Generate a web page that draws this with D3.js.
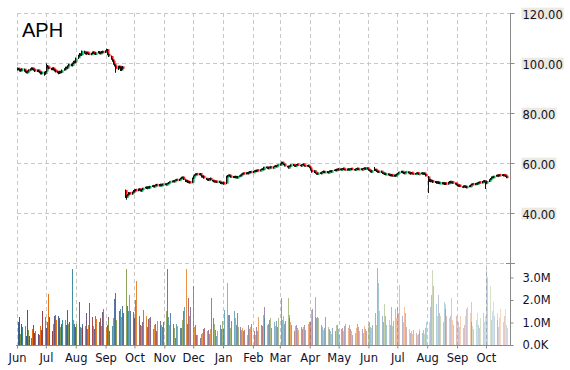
<!DOCTYPE html>
<html>
<head>
<meta charset="utf-8">
<script src="https://cdnjs.cloudflare.com/ajax/libs/d3/7.8.5/d3.min.js"></script>
<style>
  body { margin: 0; background: #fff; }
  svg { display: block; }
  text { font-family: 'DejaVu Sans', Verdana, sans-serif; }
</style>
</head>
<body>
<div id="chart"></div>
<script>
/* global d3 */

// ----------------------------------------
// Data: one entry per trading day, from 2 Jun 2014 (2:1 split after 19 Sep 2014)
// ----------------------------------------

let priceOpen = [
  // Jun 2014
  97.3, 97.9, 97.5, 96.8, 97.1, 97.7, 96.9, 96.5, 96.2, 96.8, 97.2, 97.5, 98.0, 97.6, 97.3, 96.7, 97.2, 96.7, 96.3, 95.7, 96.4,
  // Jul
  95.7, 96.5, 98.8, 98.3, 97.9, 97.4, 98.0, 97.4, 97.0, 96.6, 96.3, 95.8, 96.7, 96.2, 97.2, 97.5, 98.3, 97.9, 98.9, 99.5, 98.9, 99.8, 100.7,
  // Aug
  100.3, 101.9, 102.8, 103.7, 103.1, 104.2, 104.7, 103.9, 103.6, 104.3, 103.8, 103.4, 103.9, 104.4, 103.8, 103.5, 104.1, 104.5, 103.7, 104.2, 104.6,
  // Sep (pre split)
  104.3, 104.9, 105.4, 104.5, 103.5, 102.8, 101.5, 100.9, 99.5, 99.0, 97.5, 98.7, 98.3, 97.0, 98.5,
  // Sep (post split)
  49.2, 46.2, 46.9, 47.3, 48.2, 47.5, 48.3,
  // Oct
  48.9, 48.5, 49.4, 48.9, 49.7, 49.3, 48.7, 49.4, 50.0, 50.4, 49.7, 50.5, 50.0, 50.6, 51.0, 50.4, 51.1, 51.4, 50.8, 51.0, 51.5, 50.9, 51.2,
  // Nov
  51.7, 51.2, 51.7, 51.8, 52.3, 52.4, 52.9, 52.5, 53.1, 53.4, 53.0, 53.6, 53.8, 54.4, 54.1, 53.3, 52.5, 53.0, 52.1, 52.6,
  // Dec
  52.1, 53.8, 54.9, 55.2, 55.7, 55.3, 55.8, 55.1, 54.3, 54.8, 53.8, 53.5, 53.0, 53.6, 53.9, 53.1, 52.9, 52.4, 52.8, 52.3, 52.7, 52.3, 51.8,
  // Jan 2015
  52.2, 52.1, 51.8, 54.5, 55.0, 55.2, 54.8, 54.2, 54.7, 54.1, 54.6, 54.0, 54.7, 54.8, 55.1, 55.5, 56.0, 55.6, 56.2, 55.7, 56.2, 56.6,
  // Feb
  56.1, 56.7, 57.0, 56.6, 57.2, 56.8, 57.4, 57.7, 57.3, 57.8, 58.4, 58.2, 57.7, 58.3, 58.5, 57.9, 58.6, 58.9, 58.5, 59.0,
  // Mar
  59.1, 59.7, 60.3, 59.7, 59.4, 58.7, 58.5, 58.0, 58.7, 58.8, 59.4, 59.1, 58.6, 59.2, 59.5, 59.1, 58.8, 59.4, 59.6, 59.0, 58.7, 59.1,
  // Apr
  58.5, 58.2, 57.1, 56.4, 56.9, 56.3, 55.8, 55.5, 56.1, 55.7, 56.4, 56.7, 56.1, 56.6, 56.0, 56.5, 56.9, 56.4, 57.0, 57.3, 56.9, 57.6,
  // May
  57.2, 57.7, 57.2, 57.6, 57.9, 57.5, 57.1, 57.7, 57.2, 57.6, 57.8, 57.5, 57.1, 57.6, 57.9, 57.3, 57.7, 57.2, 57.8, 58.0, 57.5,
  // Jun
  58.1, 57.5, 57.2, 56.9, 56.3, 57.0, 57.5, 57.1, 56.7, 56.2, 56.8, 56.2, 55.7, 56.0, 55.3, 55.7, 55.3, 54.9, 55.4, 54.8, 55.2, 54.7,
  // Jul
  55.1, 55.5, 56.0, 56.2, 56.7, 56.2, 55.7, 56.3, 56.5, 56.1, 55.6, 56.2, 55.8, 55.5, 55.9, 56.1, 55.8, 55.4, 55.7, 56.1, 55.5, 56.0, 55.5,
  // Aug
  54.6, 52.7, 53.4, 52.5, 53.0, 52.2, 52.6, 51.9, 52.5, 51.7, 52.2, 51.6, 52.1, 51.5, 52.0, 51.6, 52.1, 52.7, 52.0, 52.5, 52.0,
  // Sep
  51.7, 51.3, 50.7, 51.2, 50.5, 50.3, 50.9, 50.6, 50.1, 50.5, 51.0, 50.6, 51.1, 51.7, 51.3, 51.9, 51.5, 51.9, 52.4, 52.0, 52.5, 53.0,
  // Oct
  52.3, 51.9, 52.6, 53.4, 53.7, 54.5, 54.1, 54.8, 54.8, 55.2, 54.7, 55.3, 54.9, 55.4, 54.8, 55.2, 54.7
]

let priceHigh = [
  98.2, 98.1, 97.7, 97.5, 97.9, 97.8, 97.1, 96.8, 97.0, 97.5, 97.9, 98.3, 98.2, 97.8, 97.5, 97.4, 97.4, 96.9, 96.5, 96.6, 96.6,
  96.8, 99.8, 99.2, 98.6, 98.1, 98.2, 98.3, 97.6, 97.3, 96.9, 96.6, 96.9, 96.9, 97.4, 97.9, 98.5, 98.6, 99.1, 99.7, 99.8, 100.2, 100.9, 101.0,
  102.2, 103.3, 104.0, 103.9, 104.5, 105.0, 104.9, 104.2, 104.5, 104.6, 104.0, 104.1, 104.6, 104.7, 104.1, 104.3, 104.8, 104.7, 104.4, 104.8, 104.9,
  105.1, 105.7, 105.6, 104.8, 103.8, 103.0, 101.8, 101.2, 99.8, 99.3, 98.9, 99.0, 98.6, 98.7, 98.8,
  49.4, 47.1, 47.6, 48.4, 48.3, 48.6, 49.1,
  49.1, 49.5, 49.6, 49.8, 49.9, 49.4, 49.7, 50.1, 50.5, 50.6, 50.6, 50.7, 50.9, 51.1, 51.2, 51.2, 51.5, 51.6, 51.3, 51.6, 51.7, 51.5, 51.8,
  51.9, 51.8, 52.1, 52.4, 52.7, 53.0, 53.1, 53.2, 53.5, 53.6, 53.7, 54.1, 54.5, 54.6, 54.3, 53.5, 53.1, 53.2, 52.7, 52.8,
  54.2, 55.0, 55.5, 55.9, 55.9, 55.9, 56.0, 55.3, 54.9, 55.0, 54.1, 53.7, 53.8, 54.0, 54.1, 53.3, 53.1, 52.9, 53.0, 52.8, 52.9, 52.5, 52.3,
  52.4, 52.3, 54.9, 55.2, 55.4, 55.4, 55.0, 54.8, 54.8, 54.8, 54.8, 54.8, 55.1, 55.4, 55.8, 56.1, 56.2, 56.3, 56.4, 56.5, 56.8, 56.8,
  56.8, 57.1, 57.2, 57.3, 57.4, 57.5, 57.8, 57.9, 58.1, 58.5, 58.6, 58.3, 58.4, 58.6, 58.7, 58.7, 59.0, 59.1, 59.1, 59.4,
  59.9, 60.6, 60.5, 59.9, 59.6, 58.9, 58.7, 58.8, 59.1, 59.5, 59.6, 59.3, 59.3, 59.6, 59.7, 59.3, 59.5, 59.7, 59.8, 59.2, 59.2, 59.3,
  58.7, 58.4, 57.3, 57.0, 57.1, 56.5, 56.0, 56.2, 56.3, 56.5, 56.8, 56.9, 56.7, 56.8, 56.6, 57.0, 57.1, 57.1, 57.4, 57.5, 57.7, 57.8,
  57.9, 57.8, 57.7, 58.0, 58.1, 57.6, 57.8, 57.9, 57.7, 57.9, 58.0, 57.6, 57.7, 58.0, 58.1, 57.8, 57.9, 57.9, 58.1, 58.2, 58.2,
  58.3, 57.7, 57.4, 57.1, 57.1, 58.4, 57.7, 57.3, 56.9, 56.9, 57.0, 56.3, 56.1, 56.1, 55.8, 55.9, 55.5, 55.5, 55.6, 55.3, 55.4, 55.4,
  55.8, 56.1, 56.5, 56.9, 56.9, 56.4, 56.4, 56.6, 56.7, 56.2, 56.3, 56.4, 56.0, 56.0, 56.2, 56.3, 55.9, 56.0, 56.2, 56.3, 56.1, 56.2, 55.7,
  54.8, 53.6, 53.6, 53.1, 53.2, 52.8, 52.8, 52.6, 52.7, 52.3, 52.4, 52.2, 52.3, 52.1, 52.2, 52.5, 52.8, 52.9, 52.6, 52.7, 52.2,
  51.9, 51.5, 51.3, 51.4, 50.7, 51.0, 51.1, 50.8, 50.8, 51.1, 51.2, 51.4, 51.8, 51.9, 52.0, 52.1, 52.2, 52.5, 52.6, 52.8, 53.1, 53.2,
  52.6, 52.9, 53.5, 54.0, 54.6, 54.7, 54.9, 55.1, 55.3, 55.3, 55.4, 55.5, 55.5, 55.6, 55.3, 55.4, 54.9
]

let priceLow = [
  97.0, 97.1, 96.6, 96.5, 96.9, 96.5, 96.1, 95.8, 95.9, 96.5, 96.9, 97.3, 97.2, 96.9, 96.4, 96.4, 96.3, 95.9, 95.4, 95.4, 94.9,
  95.3, 96.2, 97.9, 97.5, 97.1, 97.1, 97.0, 96.6, 96.2, 95.9, 95.5, 95.6, 96.0, 96.0, 96.9, 97.2, 97.7, 97.7, 98.6, 98.7, 98.6, 99.6, 99.9,
  100.0, 101.6, 102.5, 102.9, 102.9, 103.9, 103.7, 103.4, 103.3, 103.6, 103.2, 103.1, 103.6, 103.7, 103.3, 103.2, 103.8, 103.5, 103.4, 103.9, 103.9,
  104.0, 104.6, 104.3, 103.1, 102.4, 101.3, 100.5, 99.3, 98.6, 96.1, 97.2, 97.8, 96.8, 96.8, 97.4,
  46.0, 45.3, 46.6, 47.1, 47.4, 47.3, 48.1,
  48.3, 48.3, 48.8, 48.7, 49.0, 48.6, 48.5, 49.2, 49.8, 49.6, 49.5, 49.9, 49.8, 50.4, 50.3, 50.2, 50.9, 50.7, 50.6, 50.8, 50.8, 50.7, 51.0,
  51.1, 51.0, 51.5, 51.6, 52.1, 52.2, 52.4, 52.3, 52.9, 52.9, 52.8, 53.4, 53.6, 53.8, 53.2, 52.4, 52.3, 52.0, 51.9, 51.8,
  51.9, 53.6, 54.7, 55.0, 55.2, 55.1, 55.0, 54.2, 54.1, 53.7, 53.2, 52.9, 52.8, 53.3, 53.0, 52.6, 52.3, 52.2, 52.2, 52.1, 52.0, 51.6, 51.5,
  51.7, 51.3, 51.5, 54.2, 54.7, 54.5, 54.1, 54.0, 54.0, 53.9, 53.9, 53.8, 54.5, 54.6, 54.9, 55.3, 55.5, 55.4, 55.6, 55.5, 56.0, 56.0,
  55.9, 56.5, 56.4, 56.4, 56.7, 56.6, 57.2, 57.2, 57.1, 57.6, 57.9, 57.6, 57.5, 58.1, 57.8, 57.7, 58.4, 58.4, 58.3, 58.8,
  58.9, 59.5, 59.5, 59.1, 58.6, 58.2, 57.8, 57.8, 58.4, 58.6, 58.8, 58.5, 58.4, 59.0, 59.0, 58.7, 58.6, 59.2, 58.9, 58.5, 58.5, 58.4,
  57.9, 57.0, 56.1, 56.2, 56.0, 55.7, 55.3, 55.3, 55.6, 55.5, 56.2, 56.0, 55.9, 55.9, 55.8, 56.3, 56.3, 56.2, 56.8, 56.8, 56.7, 57.1,
  57.0, 57.1, 57.0, 57.4, 57.2, 57.0, 56.9, 57.1, 57.0, 57.4, 57.2, 57.0, 56.9, 57.4, 57.2, 57.1, 57.1, 57.0, 57.6, 57.4, 57.3,
  57.4, 56.9, 56.6, 56.2, 56.1, 56.8, 56.8, 56.4, 56.1, 56.0, 56.0, 55.6, 55.5, 55.2, 55.1, 55.0, 54.8, 54.7, 54.7, 54.6, 54.5, 54.5,
  54.9, 55.3, 55.8, 56.0, 55.9, 55.6, 55.5, 56.1, 55.8, 55.5, 55.4, 55.7, 55.4, 55.3, 55.7, 55.5, 55.2, 55.2, 55.5, 55.4, 55.3, 55.2, 54.6,
  48.0, 52.4, 52.3, 52.3, 52.0, 52.0, 51.7, 51.7, 51.6, 51.5, 51.4, 51.4, 51.4, 51.2, 51.2, 51.3, 51.9, 51.8, 51.8, 51.7, 51.3,
  51.0, 50.6, 50.5, 50.4, 50.1, 50.1, 50.3, 50.0, 49.9, 50.3, 50.5, 50.4, 51.0, 51.2, 51.1, 51.4, 51.3, 51.7, 51.9, 51.8, 52.3, 52.2,
  49.6, 51.7, 52.4, 53.2, 53.5, 54.0, 54.0, 54.6, 54.6, 54.6, 54.5, 54.8, 54.8, 54.7, 54.7, 54.4, 53.9
]

let priceClose = [
  97.8, 97.4, 96.9, 97.2, 97.6, 96.8, 96.4, 96.1, 96.7, 97.3, 97.6, 97.9, 97.5, 97.2, 96.8, 97.1, 96.6, 96.2, 95.8, 96.3, 95.6,
  96.4, 98.9, 98.2, 97.8, 97.5, 97.9, 97.3, 96.9, 96.5, 96.2, 95.9, 96.6, 96.3, 97.1, 97.6, 98.2, 98.0, 98.8, 99.4, 99.0, 99.9, 100.6, 100.2,
  101.8, 102.9, 103.6, 103.2, 104.1, 104.6, 104.0, 103.7, 104.2, 103.9, 103.5, 103.8, 104.3, 103.9, 103.6, 104.0, 104.4, 103.8, 104.1, 104.5, 104.2,
  104.8, 105.3, 104.6, 103.4, 102.7, 101.6, 100.8, 99.6, 98.9, 97.6, 98.6, 98.2, 97.1, 98.4, 97.8,
  46.3, 46.8, 47.4, 48.1, 47.6, 48.4, 48.9,
  48.6, 49.3, 49.0, 49.6, 49.2, 48.8, 49.5, 49.9, 50.3, 49.8, 50.4, 50.1, 50.7, 50.9, 50.5, 51.0, 51.3, 50.9, 51.1, 51.4, 51.0, 51.3, 51.6,
  51.3, 51.6, 51.9, 52.2, 52.5, 52.8, 52.6, 53.0, 53.3, 53.1, 53.5, 53.9, 54.3, 54.0, 53.4, 52.6, 52.9, 52.2, 52.5, 52.0,
  53.9, 54.8, 55.3, 55.6, 55.4, 55.7, 55.2, 54.4, 54.7, 53.9, 53.4, 53.1, 53.5, 53.8, 53.2, 52.8, 52.5, 52.7, 52.4, 52.6, 52.2, 51.9, 52.1,
  52.0, 51.6, 54.6, 54.9, 55.1, 54.7, 54.3, 54.6, 54.2, 54.5, 54.1, 54.6, 54.9, 55.2, 55.6, 55.9, 55.7, 56.1, 55.8, 56.3, 56.5, 56.2,
  56.6, 56.9, 56.7, 57.1, 56.9, 57.3, 57.6, 57.4, 57.9, 58.3, 58.1, 57.8, 58.2, 58.4, 58.0, 58.5, 58.8, 58.6, 58.9, 59.2,
  59.6, 60.2, 59.8, 59.3, 58.8, 58.4, 58.1, 58.6, 58.9, 59.3, 59.0, 58.7, 59.1, 59.4, 59.2, 58.9, 59.3, 59.5, 59.1, 58.8, 59.0, 58.6,
  58.1, 57.2, 56.5, 56.8, 56.2, 55.9, 55.6, 56.0, 55.8, 56.3, 56.6, 56.2, 56.5, 56.1, 56.4, 56.8, 56.5, 56.9, 57.2, 57.0, 57.5, 57.3,
  57.6, 57.3, 57.5, 57.8, 57.4, 57.2, 57.6, 57.3, 57.5, 57.7, 57.4, 57.2, 57.5, 57.8, 57.4, 57.6, 57.3, 57.7, 57.9, 57.6, 58.0,
  57.6, 57.1, 56.8, 56.4, 56.9, 57.4, 57.0, 56.6, 56.3, 56.7, 56.1, 55.8, 55.9, 55.4, 55.6, 55.2, 55.0, 55.3, 54.9, 55.1, 54.8, 55.2,
  55.6, 55.9, 56.3, 56.6, 56.1, 55.8, 56.2, 56.4, 56.0, 55.7, 56.1, 55.9, 55.6, 55.8, 56.0, 55.7, 55.5, 55.8, 56.0, 55.6, 55.9, 55.4, 54.8,
  52.8, 53.3, 52.6, 52.9, 52.3, 52.5, 52.0, 52.4, 51.8, 52.1, 51.7, 52.0, 51.6, 51.9, 51.5, 52.2, 52.6, 52.1, 52.4, 51.9, 51.6,
  51.2, 50.8, 51.1, 50.6, 50.4, 50.8, 50.5, 50.2, 50.6, 50.9, 50.7, 51.2, 51.6, 51.4, 51.8, 51.6, 52.0, 52.3, 52.1, 52.6, 52.9, 52.4,
  51.8, 52.7, 53.3, 53.8, 54.4, 54.2, 54.7, 54.9, 55.1, 54.8, 55.2, 55.0, 55.3, 54.9, 55.1, 54.6, 54.1
]

// volume in millions of shares
let volumeM = [
  1.0, 1.25, 0.5, 0.95, 0.8, 0.85, 0.4, 1.55, 0.65, 0.4, 0.3, 0.7, 0.9, 0.55, 0.6, 0.5, 0.45, 0.85, 0.65, 1.5, 1.25,
  0.75, 1.0, 2.27, 1.25, 0.6, 0.95, 1.3, 1.35, 1.1, 1.3, 1.2, 0.8, 0.95, 1.1, 1.1, 0.9, 1.55, 0.95, 1.0, 3.37, 1.1, 0.95, 0.8,
  0.95, 1.9, 0.8, 0.75, 0.95, 0.8, 0.85, 1.4, 0.7, 0.9, 1.85, 1.25, 0.85, 0.7, 1.3, 1.15, 1.0, 1.2, 0.85, 1.45, 1.6,
  0.8, 0.9, 1.25, 1.1, 0.6, 0.85, 1.2, 2.04, 2.3, 1.1, 1.5, 1.6, 1.25, 1.75, 1.4,
  3.37, 1.75, 1.5, 2.2, 1.5, 1.45, 1.2,
  1.2, 2.0, 2.85, 1.3, 0.9, 0.85, 1.0, 1.55, 1.3, 0.8, 1.15, 1.2, 1.25, 0.7, 0.9, 0.95, 0.6, 1.05, 1.05, 0.85, 0.9, 0.8, 1.0,
  1.5, 3.37, 1.25, 0.9, 1.4, 0.95, 0.75, 0.3, 0.95, 0.85, 0.75, 0.75, 1.1, 1.5, 1.7, 3.37, 0.95, 2.1, 1.3, 1.7,
  2.6, 0.8, 0.9, 0.45, 0.45, 0.3, 0.5, 0.55, 0.7, 0.75, 0.6, 0.65, 0.5, 0.7, 2.07, 1.2, 0.95, 0.65, 0.4, 0.6, 0.9, 0.7, 1.05,
  0.7, 1.55, 2.74, 1.35, 1.35, 0.75, 1.05, 1.5, 1.2, 0.9, 1.4, 0.8, 0.8, 0.65, 0.75, 0.6, 0.65, 0.45, 0.9, 0.7, 0.8, 0.95,
  0.6, 0.45, 0.8, 0.6, 1.26, 0.9, 0.85, 1.33, 1.7, 1.2, 0.9, 0.95, 1.1, 1.2, 0.75, 1.0, 0.85, 1.05, 0.8, 1.2,
  2.07, 1.1, 1.3, 0.95, 1.05, 2.07, 1.2, 1.33, 1.0, 0.9, 0.6, 0.85, 0.9, 0.75, 0.65, 0.8, 0.7, 0.8, 0.9, 0.65, 0.95, 1.0,
  1.0, 1.55, 1.6, 2.15, 1.26, 1.2, 1.26, 1.2, 0.9, 0.8, 0.65, 0.75, 1.26, 0.8, 0.7, 0.6, 0.5, 0.75, 0.6, 0.9, 0.9, 0.7,
  0.5, 0.7, 0.75, 0.6, 0.85, 0.95, 0.75, 0.9, 0.7, 0.6, 0.45, 0.55, 0.75, 0.95, 0.8, 0.6, 0.7, 0.55, 0.85, 0.7, 0.6,
  0.95, 1.0, 0.8, 0.75, 0.9, 1.4, 0.9, 3.4, 2.74, 1.5, 1.3, 1.0, 1.8, 1.3, 0.9, 1.1, 0.9, 1.7, 0.85, 1.05, 1.6, 1.2,
  1.7, 1.4, 2.67, 1.3, 1.0, 1.7, 1.4, 0.8, 0.7, 0.55, 0.6, 0.5, 0.65, 0.55, 0.45, 0.5, 0.6, 0.7, 0.55, 0.65, 0.5, 0.75, 1.0,
  1.0, 1.7, 2.2, 3.33, 2.6, 1.8, 1.3, 2.2, 1.4, 1.3, 1.0, 1.9, 1.8, 1.6, 1.3, 1.2, 1.3, 2.1, 1.1, 0.9, 1.3,
  1.2, 1.0, 0.8, 1.3, 0.75, 0.9, 1.3, 1.6, 1.7, 1.4, 1.9, 1.0, 0.85, 0.7, 1.1, 1.4, 0.9, 0.75, 1.2, 1.4, 1.0, 1.3,
  3.4, 3.0, 2.6, 1.1, 1.5, 1.9, 1.3, 1.1, 1.4, 0.8, 1.2, 1.6, 1.0, 1.3, 1.6, 0.9, 0.75
]

let priceTicks = [40, 60, 80, 100, 120]
let volumeTicks = [0, 1, 2, 3]
let volumeTickLabels = ['0.0K', '1.0M', '2.0M', '3.0M']
let symbol = 'APH'

let volumeColors = ['#376092', '#953735', '#77933c', '#604a7b', '#31859c', '#e46c0a']
let upC = '#0f9d50'
let downC = '#f01010'
let gridC = '#c8c8c8'
let axisC = '#8a8a8a'

// trading days: weekdays from 2 Jun 2014
var dates = []
var day = new Date(2014, 5, 2)
while (dates.length < priceClose.length) {
  if (day.getDay() !== 0 && day.getDay() !== 6) dates.push(new Date(day))
  day.setDate(day.getDate() + 1)
}

var width = 570
var height = 370
var left = 17
var right = 510
var priceTop = 13
var volTop = 263
var volBottom = 345

var svg = d3.select('#chart').append('svg')
  .attr('width', width)
  .attr('height', height)

var x = d3.scaleTime()
  .domain([new Date(2014, 5, 1), new Date(2015, 9, 26)])
  .range([left, right])

var yPrice = d3.scaleLinear()
  .domain([20, 120])
  .range([volTop, priceTop])

var yVol = d3.scaleLinear()
  .domain([0, 3.644])
  .range([volBottom, volTop])

var months = d3.timeMonth.range(new Date(2014, 5, 1), new Date(2015, 9, 26))

// ----------------------------------------
// Grid
// ----------------------------------------

var grid = svg.append('g').attr('class', 'grid')
  .attr('stroke', gridC)
  .attr('stroke-dasharray', '4,3')
  .attr('shape-rendering', 'crispEdges')

grid.selectAll('line.v')
  .data(months)
  .enter().append('line')
    .attr('class', 'v')
    .attr('x1', d => Math.round(x(d)) + 0.5)
    .attr('x2', d => Math.round(x(d)) + 0.5)
    .attr('y1', priceTop)
    .attr('y2', volBottom)

grid.selectAll('line.h')
  .data(priceTicks.concat([20]))
  .enter().append('line')
    .attr('class', 'h')
    .attr('x1', left)
    .attr('x2', right)
    .attr('y1', d => Math.round(yPrice(d)) + 0.5)
    .attr('y2', d => Math.round(yPrice(d)) + 0.5)

// ----------------------------------------
// Volume bars
// ----------------------------------------

var n = volumeM.length
svg.append('g').attr('class', 'volume')
  .selectAll('rect')
  .data(volumeM)
  .enter().append('rect')
    .attr('x', (d, i) => Math.round(x(dates[i])))
    .attr('width', 1)
    .attr('y', d => yVol(d))
    .attr('height', d => volBottom - yVol(d))
    .attr('fill', (d, i) => volumeColors[i % volumeColors.length])
    .attr('fill-opacity', (d, i) => 1 - 0.75 * i / (n - 1))
    .attr('shape-rendering', 'crispEdges')

// ----------------------------------------
// Candles
// ----------------------------------------

var candles = svg.append('g').attr('class', 'candles')
  .selectAll('g')
  .data(priceClose)
  .enter().append('g')

candles.append('line')
  .attr('x1', (d, i) => Math.round(x(dates[i])) - 0.5)
  .attr('x2', (d, i) => Math.round(x(dates[i])) - 0.5)
  .attr('y1', (d, i) => yPrice(priceHigh[i]))
  .attr('y2', (d, i) => yPrice(priceLow[i]))
  .attr('stroke', '#111')
  .attr('stroke-width', 1)

candles.append('rect')
  .attr('x', (d, i) => Math.round(x(dates[i])))
  .attr('width', 1.5)
  .attr('y', (d, i) => (yPrice(priceOpen[i]) + yPrice(d)) / 2 - Math.max(1.25, Math.abs(yPrice(priceOpen[i]) - yPrice(d)) / 2))
  .attr('height', (d, i) => Math.max(2.5, Math.abs(yPrice(priceOpen[i]) - yPrice(d))))
  .attr('fill', (d, i) => d >= priceOpen[i] ? upC : downC)

// ----------------------------------------
// Axes
// ----------------------------------------

svg.append('line')
  .attr('x1', right + 0.5).attr('x2', right + 0.5)
  .attr('y1', priceTop).attr('y2', volBottom + 0.5)
  .attr('stroke', axisC)

svg.append('line')
  .attr('x1', left - 1).attr('x2', right + 0.5)
  .attr('y1', volBottom + 0.5).attr('y2', volBottom + 0.5)
  .attr('stroke', axisC)

// panel separator tick
svg.append('line')
  .attr('x1', right - 4).attr('x2', right + 5)
  .attr('y1', volTop + 0.5).attr('y2', volTop + 0.5)
  .attr('stroke', axisC)

var priceAxis = svg.append('g')
  .attr('transform', 'translate(' + (right + 0.5) + ',0)')
  .call(d3.axisRight(yPrice)
    .tickValues(priceTicks)
    .tickSize(4)
    .tickPadding(8)
    .tickFormat(d3.format('.2f')))

priceAxis.select('.domain').remove()
priceAxis.selectAll('.tick line').attr('stroke', axisC)
priceAxis.selectAll('.tick text')
  .attr('fill', '#10102a')
  .attr('y', 1.5)
  .style('font-size', '11.5px')
  .style('font-family', "'DejaVu Sans', Verdana, sans-serif")
  .each(function () {
    var bb = this.getBBox()
    d3.select(this.parentNode).insert('rect', 'text')
      .attr('x', bb.x - 1)
      .attr('y', bb.y)
      .attr('width', bb.width + 2)
      .attr('height', bb.height - 2)
      .attr('fill', '#ece9df')
  })

var volAxis = svg.append('g')
  .attr('transform', 'translate(' + (right + 0.5) + ',0)')
  .call(d3.axisRight(yVol)
    .tickValues(volumeTicks)
    .tickSize(3)
    .tickPadding(9)
    .tickFormat((d, i) => volumeTickLabels[i]))

volAxis.select('.domain').remove()
volAxis.selectAll('.tick line').attr('stroke', axisC)
volAxis.selectAll('.tick text')
  .attr('fill', '#10102a')
  .style('font-size', '11.5px')
  .style('font-family', "'DejaVu Sans', Verdana, sans-serif")

var timeAxis = svg.append('g')
  .attr('transform', 'translate(0,' + (volBottom + 0.5) + ')')
  .call(d3.axisBottom(x)
    .tickValues(months)
    .tickSize(3)
    .tickPadding(5)
    .tickFormat(d3.timeFormat('%b')))

timeAxis.select('.domain').remove()
timeAxis.selectAll('.tick line').attr('stroke', axisC)
timeAxis.selectAll('.tick text')
  .attr('fill', '#10102a')
  .style('font-size', '11.5px')
  .style('font-family', "'DejaVu Sans', Verdana, sans-serif")

// ----------------------------------------
// Symbol
// ----------------------------------------

svg.append('text')
  .attr('x', 22)
  .attr('y', 37)
  .style('font-family', "'Liberation Sans', Arial, sans-serif")
  .style('font-size', '20px')
  .attr('fill', '#000')
  .text(symbol)
</script>
</body>
</html>
